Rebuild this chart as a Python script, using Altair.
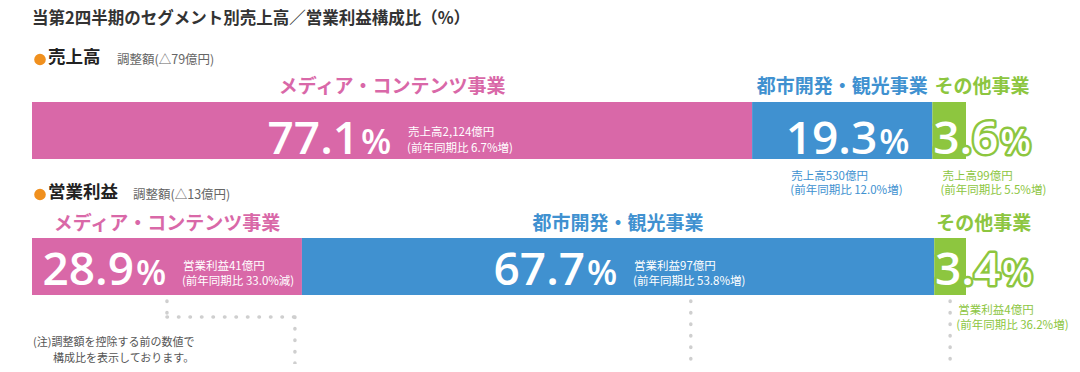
import altair as alt
import pandas as pd

# ---------------- data ----------------
metrics = ["売上高", "営業利益"]
segments = ["メディア・コンテンツ事業", "都市開発・観光事業", "その他事業"]
adjustments = ["△79億円", "△13億円"]
sales_share = [77.1, 19.3, 3.6]
profit_share = [28.9, 67.7, 3.4]
sales_amount = ["2,124", "530", "99"]
profit_amount = ["41", "97", "4"]
sales_yoy = ["6.7%増", "12.0%増", "5.5%増"]
profit_yoy = ["33.0%減", "53.8%増", "36.2%増"]
title_text = "当第2四半期のセグメント別売上高／営業利益構成比（%）"
note_lines = ["(注)調整額を控除する前の数値で", "構成比を表示しております。"]

colors = ["#d968a8", "#4091d0", "#8dc63f"]
JP = "Noto Sans CJK JP"
NUM = "Open Sans"
NUMW = 600

rows = []
for m, shares, amts, yoys in [
    (metrics[0], sales_share, sales_amount, sales_yoy),
    (metrics[1], profit_share, profit_amount, profit_yoy),
]:
    cum = 0.0
    for seg, s, a, y in zip(segments, shares, amts, yoys):
        rows.append(dict(metric=m, segment=seg, share=s, start=cum, end=cum + s,
                         mid=cum + s / 2, num=f"{s:.1f}", pct="%",
                         amt=f"{m}{a}億円", yoy=f"(前年同期比 {y})"))
        cum += s
df = pd.DataFrame(rows)

xs = alt.Scale(domain=[0, 100], range=[24, 958])
ys = alt.Scale(type="band", domain=metrics, range=[94, 287], paddingInner=0.5809,
               paddingOuter=0)
cs = alt.Scale(domain=segments, range=colors)
Y = alt.Y("metric:N", scale=ys, axis=None, bandPosition=0.5)
SEGCOL = alt.Color("segment:N", scale=cs, legend=None)


def sel(metric=None, segs=None):
    d = df
    if metric is not None:
        d = d[d.metric == metric]
    if segs is not None:
        d = d[d.segment.isin(segs)]
    return d


def txt(data, field, xf, dx=0, dy=0, size=11, align="left", baseline="alphabetic",
        color=None, weight="normal", font=JP, **kw):
    props = dict(dx=dx, dy=dy, fontSize=size, align=align, baseline=baseline,
                 font=font, fontWeight=weight, **kw)
    if color is not None:
        props["color"] = color
    enc = dict(x=alt.X(f"{xf}:Q", scale=xs, axis=None), y=Y, text=alt.Text(f"{field}:N"))
    if color is None:
        enc["color"] = SEGCOL
    return alt.Chart(data).mark_text(**props).encode(**enc)


def free(text, x, y, size, color, weight="normal", align="left", font=JP):
    return alt.Chart(pd.DataFrame({"t": [text]})).mark_text(
        fontSize=size, color=color, fontWeight=weight, align=align,
        baseline="middle", font=font
    ).encode(x=alt.value(x), y=alt.value(y), text="t:N")


layers = []

# bars
layers.append(alt.Chart(df).mark_bar().encode(
    x=alt.X("start:Q", scale=xs, axis=None), x2="end:Q",
    y=alt.Y("metric:N", scale=ys, axis=None), color=SEGCOL))

# segment names
layers.append(txt(sel(segs=segments[:2]), "segment", "mid", dy=-43, size=19,
                  align="center", baseline="middle", weight="bold"))
layers.append(txt(sel(segs=segments[2:]), "segment", "start", dx=2, dy=-43, size=19,
                  align="left", baseline="middle", weight="bold"))

pct_dy = {metrics[0]: 23.5, metrics[1]: 18.5}
sub_dy = {metrics[0]: (3, 18.5), metrics[1]: (0.5, 15)}
below_dy = {metrics[0]: (46.5, 60.5), metrics[1]: (44.5, 59.5)}

inside = {metrics[0]: segments[:1], metrics[1]: segments[:2]}
for m in metrics:
    d = sel(m, inside[m])
    layers.append(txt(d, "num", "mid", dx=-33, dy=pct_dy[m], size=46, align="right",
                      color="white", font=NUM, weight=NUMW))
    layers.append(txt(d, "pct", "mid", dx=-31, dy=pct_dy[m], size=35, align="left",
                      color="white", font=NUM, weight=NUMW))
    layers.append(txt(d, "amt", "mid", dx=16, dy=sub_dy[m][0], size=11.5, align="left",
                      baseline="middle", color="white"))
    layers.append(txt(d, "yoy", "mid", dx=15, dy=sub_dy[m][1], size=11.5, align="left",
                      baseline="middle", color="white"))

# centred percentage (blue, sales) with notes below
d = sel(metrics[0], segments[1:2])
layers.append(txt(d, "num", "mid", dx=35, dy=pct_dy[metrics[0]], size=46, align="right",
                  color="white", font=NUM, weight=NUMW))
layers.append(txt(d, "pct", "mid", dx=37, dy=pct_dy[metrics[0]], size=35, align="left",
                  color="white", font=NUM, weight=NUMW))
layers.append(txt(d, "amt", "mid", dx=-51, dy=below_dy[metrics[0]][0], size=11.5,
                  baseline="middle"))
layers.append(txt(d, "yoy", "mid", dx=-52, dy=below_dy[metrics[0]][1], size=11.5,
                  baseline="middle"))

# small segment (green): outlined percentage, notes below
green_dx = {metrics[0]: 10, metrics[1]: 24}
for m in metrics:
    d = sel(m, segments[2:])
    for field, dx, size, align in [("num", 66, 46, "right"), ("pct", 68, 35, "left")]:
        layers.append(txt(d, field, "start", dx=dx, dy=pct_dy[m], size=size, align=align,
                          color=colors[2], font=NUM, weight=NUMW, stroke=colors[2],
                          strokeWidth=5, strokeJoin="round"))
        layers.append(txt(d, field, "start", dx=dx, dy=pct_dy[m], size=size, align=align,
                          color="white", font=NUM, weight=NUMW))
    layers.append(txt(d, "amt", "start", dx=green_dx[m], dy=below_dy[m][0], size=11.5,
                      baseline="middle"))
    layers.append(txt(d, "yoy", "start", dx=green_dx[m] - 2, dy=below_dy[m][1], size=11.5,
                      baseline="middle"))

# dotted connectors below the profit bar
p = df[df.metric == metrics[1]].set_index("segment")
pk, bl, gr = p.loc[segments[0]], p.loc[segments[1]], p.loc[segments[2]]
conn = pd.DataFrame([
    dict(x=pk.mid, x2=pk.mid, y=293, y2=309),
    dict(x=pk.mid, x2=pk.end - 0.75, y=309, y2=309),
    dict(x=pk.end - 0.75, x2=pk.end - 0.75, y=309, y2=366),
    dict(x=bl.start + 0.615 * bl.share, x2=bl.start + 0.615 * bl.share, y=293, y2=366),
    dict(x=gr.mid, x2=gr.mid, y=293, y2=366),
])
layers.append(alt.Chart(conn).mark_rule(
    strokeDash=[0.5, 11], strokeCap="round", strokeWidth=3.5, color="#cfcfcf"
).encode(x=alt.X("x:Q", scale=xs, axis=None), x2="x2:Q",
         y=alt.Y("y:Q", scale=None, axis=None), y2="y2:Q"))

# free text: title, headers, note
layers.append(free(title_text, 24, 11, 16.5, "#333333", weight="bold"))
for m, adj, yc in [(metrics[0], adjustments[0], 50), (metrics[1], adjustments[1], 185)]:
    layers.append(alt.Chart(pd.DataFrame({"t": [m]})).mark_circle(
        size=135, color="#f0901e", opacity=1).encode(x=alt.value(32), y=alt.value(yc + 1.5)))
    layers.append(free(m, 40, yc, 17.5, "#222222", weight="bold"))
    layers.append(free(f"調整額({adj})", 109 if m == metrics[0] else 125, yc + 1.5, 12.5,
                       "#666666"))
layers.append(free(note_lines[0], 25, 335, 11, "#555555"))
layers.append(free(note_lines[1], 45, 351, 11, "#555555"))

chart = alt.layer(*layers).resolve_scale(y="independent").properties(
    width=1064, height=356, padding=0, autosize=alt.AutoSizeParams(type="none")
).configure_view(strokeWidth=0)

chart.save("out.html", embed_options={"renderer": "svg", "actions": False})
